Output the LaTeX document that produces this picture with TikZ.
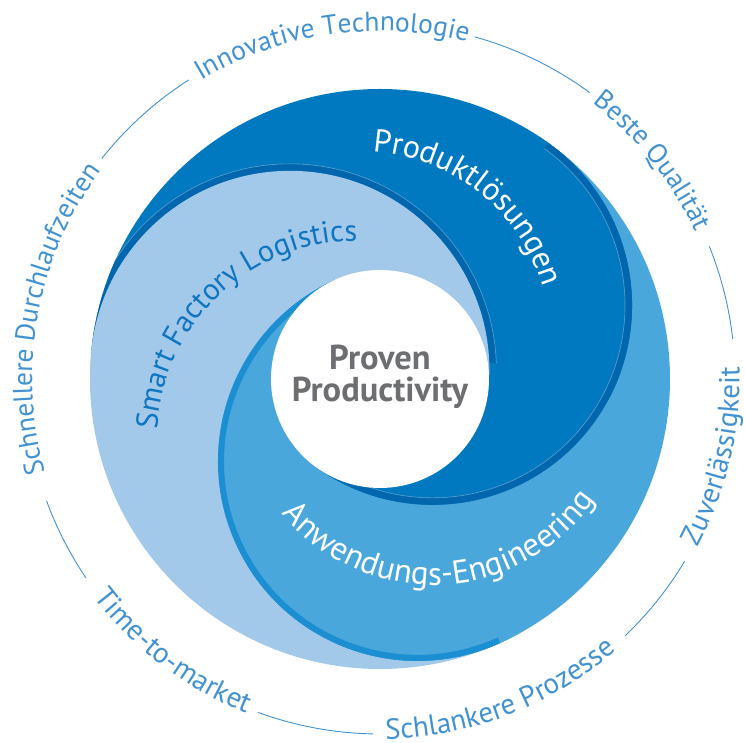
\documentclass[tikz,border=0pt]{standalone}
\usepackage{fontspec}
\setmainfont{PT Sans}
\usetikzlibrary{decorations.text}
\definecolor{swirldark}{RGB}{0,121,193}
\definecolor{swirldarkedge}{RGB}{0,103,175}
\definecolor{swirlmid}{RGB}{74,167,220}
\definecolor{swirlmidedge}{RGB}{28,143,211}
\definecolor{swirllight}{RGB}{162,200,234}
\definecolor{ringblue}{RGB}{66,146,210}
\definecolor{labelblue}{RGB}{16,117,192}
\definecolor{coregray}{RGB}{109,110,113}

\newcommand{\ringtopfont}{\fontsize{27.5}{27.5}\selectfont}
\newcommand{\ringbotfont}{\fontsize{29}{29}\selectfont}
\newcommand{\corefont}{\fontsize{34.5}{34.5}\selectfont\bfseries}

% head disks: radius 199.5, centres 90.5 away from the middle
\newcommand{\lighthead}{%
  \draw[swirldarkedge, line width=7pt] (174.5:293.5) arc[start angle=174.5, end angle=2, radius=203pt];
  \draw[white, opacity=.35, line width=.6pt] (174.5:297) arc[start angle=174.5, end angle=2, radius=206.5pt];
  \fill[swirllight] (174.5:90.5) circle[radius=199.5pt];}
\newcommand{\darkhead}{%
  \fill[swirldark] (54.5:90.5) circle[radius=199.5pt];
  \draw[swirldarkedge, line width=7pt] (54.5:286.5) arc[start angle=54.5, end angle=-125.5, radius=196pt];
  \draw[white, opacity=.35, line width=.6pt] (54.5:283) arc[start angle=54.5, end angle=-125.5, radius=192.5pt];}
\newcommand{\midhead}{%
  \fill[swirlmid] (-65.5:90.5) circle[radius=199.5pt];
  \draw[swirlmidedge, line width=6pt] (-65.5:287) arc[start angle=-65.5, end angle=-245.5, radius=196.5pt];}

\begin{document}
\begin{tikzpicture}[x=1pt, y=1pt,
    ringline/.style={ringblue, line width=0.9pt},
    ringtop/.style={decorate, decoration={text along path, text align=center, text color=ringblue, text={|\ringtopfont|#1}}},
    ringbot/.style={decorate, decoration={text along path, text align=center, text color=ringblue, text={|\ringbotfont|#1}}},
    swirltext/.style n args={3}{decorate, decoration={text along path, text align=center, text color=#1, text={|\fontsize{#2}{#2}\selectfont|#3}}}]
    \useasboundingbox (-380,-364) rectangle (365,379);

    % Swirl: outer strips between the heads
    \begin{scope}
        \clip (0,0) circle[radius=290pt];
        \fill[swirldark] (0,0) -- (54.5:300) arc[start angle=54.5, end angle=174.5, radius=300pt] -- cycle;
        \fill[swirllight] (0,0) -- (174.5:300) arc[start angle=174.5, end angle=294.5, radius=300pt] -- cycle;
        \fill[swirlmid] (0,0) -- (-65.5:300) arc[start angle=-65.5, end angle=54.5, radius=300pt] -- cycle;

        % Heads: light over dark over mid ...
        \midhead \darkhead \lighthead
        % ... mid back on top from its tail round to the dark head
        \begin{scope}
            \clip (0,0) -- (114.5:400) arc[start angle=114.5, end angle=354.5, radius=400pt] -- cycle;
            \midhead
        \end{scope}
        % ... and dark on top below the centre
        \begin{scope}
            \clip (0,0) -- (234.5:400) arc[start angle=234.5, end angle=362, radius=400pt] -- cycle;
            \darkhead
        \end{scope}
    \end{scope}

    % Centre
    \fill[white] (0,0) circle[radius=109pt];
    \node[font=\corefont, text=coregray, anchor=base] (coretop) at (0,9) {Proven};
    \node[font=\corefont, text=coregray, anchor=base] (corebottom) at (0,-23) {Productivity};

    % Labels on the swirl
    \path[swirltext={white}{32}{Produktlösungen}] ([shift={(-20,37)}]111.4:191) arc[start angle=111.4, end angle=-8.6, radius=191pt];
    \path[swirltext={labelblue}{30.5}{Smart Factory Logistics}] ([shift={(-24,-61)}]193.3:199) arc[start angle=193.3, end angle=73.3, radius=199pt];
    \path[swirltext={white}{33}{Anwendungs-Engineering}] ([shift={(53,-10)}]-157.4:196) arc[start angle=-157.4, end angle=-17.4, radius=196pt];

    % Outer ring
    \foreach \from/\to in {74.5/53.8, 22/6.5, -30.9/-46.3, -91.1/-110.1, -145.9/-159.9, 141.6/122.6}
        \draw[ringline] (\from:355) arc[start angle=\from, end angle=\to, radius=355pt];
    \path[ringtop={Innovative Technologie}] (148.2:348) arc[start angle=148.2, end angle=48.2, radius=348pt];
    \path[ringtop={Beste Qualität}] (88.7:348) arc[start angle=88.7, end angle=-11.3, radius=348pt];
    \path[ringtop={Schnellere Durchlaufzeiten}] (219.4:348) arc[start angle=219.4, end angle=119.4, radius=348pt];
    \path[ringbot={Zuverlässigkeit}] (-63:359.5) arc[start angle=-63, end angle=37, radius=359.5pt];
    \path[ringbot={Schlankere Prozesse}] (-119:360) arc[start angle=-119, end angle=-19, radius=360pt];
    \path[ringbot={Time-to-market}] (-177.2:360) arc[start angle=-177.2, end angle=-77.2, radius=360pt];
\end{tikzpicture}
\end{document}
